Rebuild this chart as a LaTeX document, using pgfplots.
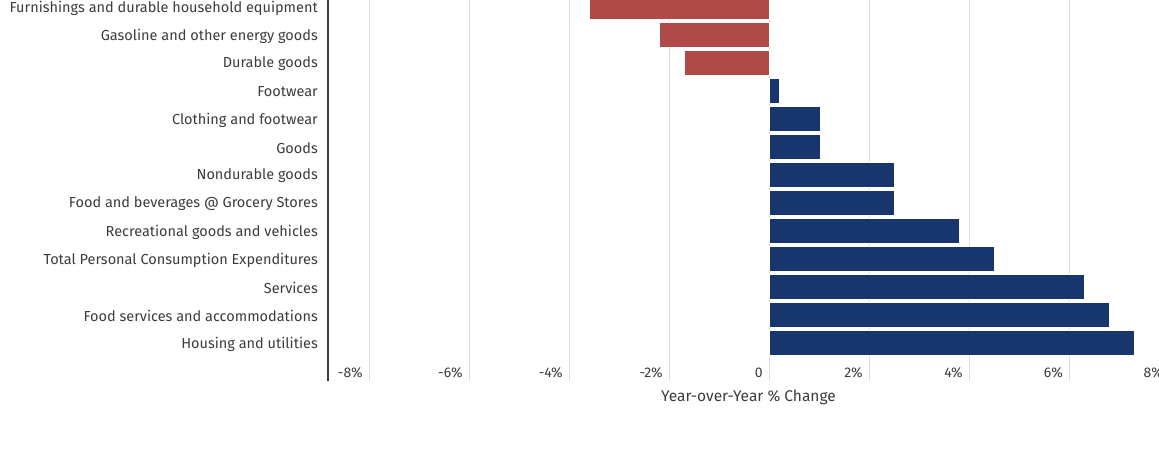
\documentclass[border=0pt]{standalone}
\usepackage{pgfplots}
\pgfplotsset{compat=1.18}
\usepackage{fontspec}
\setmainfont{Fira Sans}
\definecolor{negred}{RGB}{176,74,72}
\definecolor{posblue}{RGB}{23,54,110}
\definecolor{txt}{RGB}{60,60,60}
\definecolor{gridgray}{RGB}{221,221,221}
\begin{document}
\begin{tikzpicture}
\path[use as bounding box] (0,0) rectangle (1159bp,449bp);
\begin{axis}[
  at={(328bp,68bp)}, anchor=south west,
  scale only axis, width=841bp, height=381bp,
  xbar, bar width=25bp, bar shift=0pt,
  xmin=-8.82, xmax=8, ymin=-1.357, ymax=12.25,
  xtick={-8,-6,-4,-2,0,2,4,6,8},
  xticklabels={-8\%,-6\%,-4\%,-2\%,0,2\%,4\%,6\%,8\%},
  ytick={0,...,12},
  yticklabels={Housing and utilities,Food services and accommodations,Services,Total Personal Consumption Expenditures,Recreational goods and vehicles,Food and beverages @ Grocery Stores,Nondurable goods,Goods,Clothing and footwear,Footwear,Durable goods,Gasoline and other energy goods,Furnishings and durable household equipment},
  xmajorgrids, ymajorgrids=false,
  major grid style={draw=gridgray, line width=1bp},
  major tick length=0pt,
  axis line style={draw=none},
  clip=false,
  every tick label/.append style={text=txt, inner sep=0pt},
  xticklabel style={font=\fontsize{14bp}{16bp}\selectfont, anchor=east, xshift=-6bp, yshift=8bp},
  yticklabel style={font=\fontsize{14.5bp}{17bp}\selectfont, anchor=east, xshift=-10bp, yshift=-1bp},
  xlabel={Year-over-Year \% Change},
  xlabel style={font=\fontsize{15.5bp}{18bp}\selectfont, text=txt, inner sep=0pt, anchor=center, at={(axis description cs:0.5,0)}, yshift=-16bp},
]
\addplot[fill=negred, draw=white, line width=0.6bp] coordinates {(-1.7,10) (-2.2,11) (-3.6,12)};
\addplot[fill=posblue, draw=white, line width=0.6bp] coordinates {(7.3,0) (6.8,1) (6.3,2) (4.5,3) (3.8,4) (2.5,5) (2.5,6) (1.02,7) (1.02,8) (0.2,9)};
\draw[txt, line width=2bp] (rel axis cs:0,0) -- (rel axis cs:0,1);
\end{axis}
\end{tikzpicture}
\end{document}
